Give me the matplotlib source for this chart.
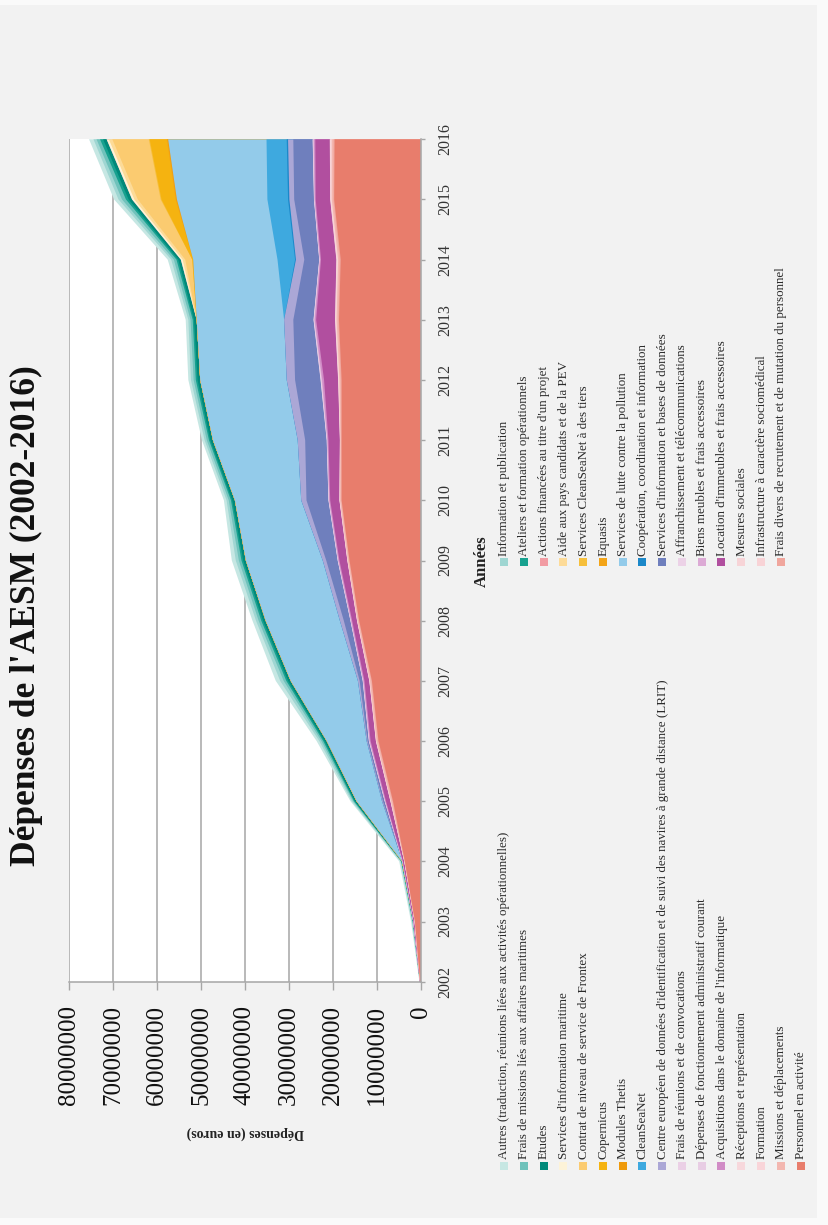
import numpy as np
import matplotlib
matplotlib.use("Agg")
import matplotlib.pyplot as plt
from matplotlib.patches import Rectangle

plt.rcParams["font.family"] = ["Liberation Serif", "DejaVu Serif"]

W_PX, H_PX = 829, 1225

# ----------------- données (millions d'euros) -----------------
years = list(range(2002, 2017))

personnel       = [0.12, 1.30, 3.60, 6.3, 9.6, 11.1, 14.0, 16.2, 18.0, 18.0, 18.0, 18.6, 18.2, 19.7, 19.6]
frais_divers    = [0.00, 0.02, 0.03, 0.15, 0.15, 0.15, 0.12, 0.12, 0.12, 0.10, 0.20, 0.20, 0.25, 0.20, 0.25]
missions        = [0.03, 0.05, 0.08, 0.30, 0.30, 0.30, 0.25, 0.25, 0.25, 0.20, 0.30, 0.35, 0.35, 0.35, 0.40]
infrastructure  = [0, 0, 0, 0, 0, 0, 0, 0, 0, 0, 0.05, 0.05, 0.10, 0.10, 0.10]
formation       = [0.00, 0.02, 0.02, 0.10, 0.10, 0.10, 0.08, 0.08, 0.08, 0.05, 0.15, 0.15, 0.15, 0.15, 0.20]
mesures         = [0.00, 0.01, 0.01, 0.03, 0.03, 0.03, 0.03, 0.03, 0.03, 0.03, 0.05, 0.10, 0.10, 0.05, 0.10]
receptions      = [0.00, 0.00, 0.01, 0.02, 0.02, 0.02, 0.02, 0.02, 0.02, 0.02, 0.05, 0.05, 0.05, 0.05, 0.05]
location        = [0.03, 0.20, 0.30, 1.0, 1.2, 1.1, 1.1, 1.8, 2.1, 2.6, 3.2, 4.3, 3.5, 3.3, 3.3]
acquisitions    = [0.00, 0.05, 0.05, 0.15, 0.20, 0.20, 0.20, 0.20, 0.20, 0.20, 0.40, 0.30, 0.20, 0.20, 0.30]
biens_meubles   = [0.00, 0.02, 0.02, 0.06, 0.08, 0.08, 0.08, 0.08, 0.08, 0.08, 0.16, 0.12, 0.08, 0.08, 0.12]
depenses_fonct  = [0.00, 0.02, 0.02, 0.05, 0.06, 0.06, 0.06, 0.06, 0.06, 0.06, 0.12, 0.09, 0.06, 0.06, 0.09]
affranchissement = [0.00, 0.01, 0.01, 0.03, 0.04, 0.04, 0.04, 0.04, 0.04, 0.04, 0.08, 0.06, 0.04, 0.04, 0.06]
frais_reunions  = [0.00, 0.00, 0.00, 0.01, 0.02, 0.02, 0.02, 0.02, 0.02, 0.02, 0.04, 0.03, 0.02, 0.02, 0.03]
serv_info_bases = [0, 0, 0, 0.4, 0.3, 0.7, 1.5, 2.6, 5.0, 4.9, 5.8, 4.6, 3.4, 4.5, 4.4]
lrit            = [0, 0, 0, 0.2, 0.2, 0.4, 0.9, 0.8, 1.2, 1.7, 1.9, 2.1, 1.9, 1.1, 1.2]
cooperation     = [0, 0, 0, 0, 0, 0, 0, 0, 0, 0, 0, 0, 0.2, 0.3, 0.3]
cleanseanet     = [0, 0, 0, 0, 0, 0, 0, 0, 0, 0, 0, 0, 4.0, 4.7, 4.6]
lutte_pollution = [0, 0, 0.1, 5.8, 9.1, 15.3, 16.9, 17.5, 15.1, 19.3, 19.7, 19.9, 19.2, 20.6, 22.4]
thetis          = [0, 0, 0, 0, 0, 0, 0, 0, 0, 0, 0, 0, 0, 0.1, 0.1]
equasis         = [0, 0, 0, 0, 0, 0, 0, 0, 0, 0, 0, 0, 0, 0.2, 0.2]
copernicus      = [0, 0, 0, 0, 0, 0, 0, 0, 0, 0, 0, 0, 0.2, 3.2, 3.9]
csn_tiers       = [0, 0, 0, 0, 0, 0, 0, 0, 0, 0, 0, 0, 0, 0.2, 0.2]
frontex         = [0, 0, 0, 0, 0, 0, 0, 0, 0, 0, 0, 0, 1.6, 5.2, 8.3]
aide_pev        = [0, 0, 0, 0, 0, 0, 0, 0, 0, 0, 0, 0, 0.6, 0.8, 0.8]
serv_info_mar   = [0, 0, 0, 0, 0, 0, 0, 0, 0, 0, 0, 0, 0.4, 0.5, 0.5]
actions_projet  = [0] * 15
etudes          = [0.00, 0.05, 0.10, 0.4, 0.5, 0.6, 0.6, 0.6, 0.6, 0.6, 0.6, 0.6, 0.6, 0.8, 0.8]
ateliers        = [0.00, 0.05, 0.05, 0.2, 0.3, 0.4, 0.4, 0.4, 0.3, 0.3, 0.4, 0.3, 0.4, 0.6, 0.7]
frais_missions  = [0.02, 0.05, 0.05, 0.2, 0.4, 0.6, 0.6, 0.6, 0.5, 0.5, 0.5, 0.5, 0.6, 0.9, 0.8]
info_publi      = [0.04, 0.15, 0.15, 0.3, 0.5, 0.8, 0.6, 0.7, 0.5, 0.5, 0.6, 0.5, 0.6, 0.8, 0.7]
autres          = [0.06, 0.20, 0.30, 0.3, 0.6, 1.0, 0.8, 0.9, 0.6, 0.6, 0.6, 0.6, 0.8, 1.0, 1.0]

VALUE_TICKS = [0, 10000000, 20000000, 30000000, 40000000, 50000000, 60000000, 70000000, 80000000]
VALUE_LABELS = [str(v) for v in VALUE_TICKS]

# empilement du bas vers le haut
SERIES = [
    ("Personnel en activité", personnel, "#e87d6c"),
    ("Frais divers de recrutement et de mutation du personnel", frais_divers, "#f0a69d"),
    ("Missions et déplacements", missions, "#f3b7b0"),
    ("Infrastructure à caractère sociomédical", infrastructure, "#f8d3d6"),
    ("Formation", formation, "#f9d5d9"),
    ("Mesures sociales", mesures, "#f7d4d7"),
    ("Réceptions et représentation", receptions, "#f7d8dc"),
    ("Location d'immeubles et frais accessoires", location, "#b14f9f"),
    ("Acquisitions dans le domaine de l'informatique", acquisitions, "#d18cc6"),
    ("Biens meubles et frais accessoires", biens_meubles, "#dcaad5"),
    ("Dépenses de fonctionnement administratif courant", depenses_fonct, "#e8cde4"),
    ("Affranchissement et télécommunications", affranchissement, "#ecd2e7"),
    ("Frais de réunions et de convocations", frais_reunions, "#ebd0e6"),
    ("Services d'information et bases de données", serv_info_bases, "#6f7fbd"),
    ("Centre européen de données d'identification et de suivi des navires à grande distance (LRIT)", lrit, "#aba7d6"),
    ("Coopération, coordination et information", cooperation, "#1b88c9"),
    ("CleanSeaNet", cleanseanet, "#3ea9df"),
    ("Services de lutte contre la pollution", lutte_pollution, "#93cbea"),
    ("Modules Thetis", thetis, "#ef9a0a"),
    ("Equasis", equasis, "#f3a417"),
    ("Copernicus", copernicus, "#f5b310"),
    ("Services CleanSeaNet à des tiers", csn_tiers, "#f6bf3b"),
    ("Contrat de niveau de service de Frontex", frontex, "#fbcb70"),
    ("Aide aux pays candidats et de la PEV", aide_pev, "#fddb98"),
    ("Services d'information maritime", serv_info_mar, "#fdf3d8"),
    ("Actions financées au titre d'un projet", actions_projet, "#f29ca3"),
    ("Etudes", etudes, "#00897a"),
    ("Ateliers et formation opérationnels", ateliers, "#17a18f"),
    ("Frais de missions liés aux affaires maritimes", frais_missions, "#6fc2bb"),
    ("Information et publication", info_publi, "#9fd6d2"),
    ("Autres (traduction, réunions liées aux activités opérationnelles)", autres, "#c6e7e3"),
]

LEGEND_LEFT = [
    "Autres (traduction, réunions liées aux activités opérationnelles)",
    "Frais de missions liés aux affaires maritimes",
    "Etudes",
    "Services d'information maritime",
    "Contrat de niveau de service de Frontex",
    "Copernicus",
    "Modules Thetis",
    "CleanSeaNet",
    "Centre européen de données d'identification et de suivi des navires à grande distance (LRIT)",
    "Frais de réunions et de convocations",
    "Dépenses de fonctionnement administratif courant",
    "Acquisitions dans le domaine de l'informatique",
    "Réceptions et représentation",
    "Formation",
    "Missions et déplacements",
    "Personnel en activité",
]
LEGEND_RIGHT = [
    "Information et publication",
    "Ateliers et formation opérationnels",
    "Actions financées au titre d'un projet",
    "Aide aux pays candidats et de la PEV",
    "Services CleanSeaNet à des tiers",
    "Equasis",
    "Services de lutte contre la pollution",
    "Coopération, coordination et information",
    "Services d'information et bases de données",
    "Affranchissement et télécommunications",
    "Biens meubles et frais accessoires",
    "Location d'immeubles et frais accessoires",
    "Mesures sociales",
    "Infrastructure à caractère sociomédical",
    "Frais divers de recrutement et de mutation du personnel",
]

GRID = "#a6a6a6"


def fx(x):
    return x / W_PX


def fy(y):
    return 1 - y / H_PX


fig = plt.figure(figsize=(W_PX / 100, H_PX / 100), dpi=100, facecolor="#fafafa")
fig.add_artist(Rectangle((0, fy(1218)), fx(817), fy(5) - fy(1218),
                         transform=fig.transFigure, facecolor="#f2f2f2",
                         edgecolor="none", zorder=0))

# le graphique est tourné de 90° : années en vertical, montants en horizontal
ax = fig.add_axes([fx(69.3), fy(981.7), (420.7 - 69.3) / W_PX, (981.7 - 139.3) / H_PX])
ax.set_facecolor("white")

yrs = np.array(years)
tops = np.cumsum(np.array([s[1] for s in SERIES]) * 1e6, axis=0)
# du haut vers le bas : chaque couche recouvre la précédente (pas de joints visibles)
for i in range(len(SERIES) - 1, -1, -1):
    ax.fill_betweenx(yrs, 0, tops[i], facecolor=SERIES[i][2], linewidth=0, zorder=2)

ax.set_xlim(80e6, 0)
ax.set_ylim(2002, 2016)
ax.set_xticks(VALUE_TICKS)
ax.set_xticklabels(VALUE_LABELS, rotation=90, fontsize=18, va="top", ha="center",
                   color="#111111")
ax.yaxis.tick_right()
ax.set_yticks(years)
ax.set_yticklabels([str(y) for y in years], rotation=90, fontsize=11.5,
                   va="center", ha="left", color="#333333")
ax.tick_params(axis="x", direction="out", length=6, width=1, color=GRID, pad=11)
ax.tick_params(axis="y", direction="out", length=3, width=1, color=GRID, pad=9)

ax.grid(axis="x", color=GRID, linewidth=1.1)
ax.set_axisbelow(True)
for side in ["top", "left"]:
    ax.spines[side].set_visible(False)
for side in ["right", "bottom"]:
    ax.spines[side].set_color(GRID)
    ax.spines[side].set_linewidth(1.1)

# textes
fig.text(fx(26), fy(616), "Dépenses de l'AESM (2002-2016)", rotation=90,
         fontsize=25.5, fontweight="bold", ha="center", va="center", color="#111111")
fig.text(fx(482), fy(561), "Années", rotation=90, fontsize=12, fontweight="bold",
         ha="center", va="center", color="#222222")
fig.text(fx(245), fy(1133), "Dépenses (en euros)", rotation=180, fontsize=10,
         fontweight="bold", ha="center", va="center", color="#222222")

# légende (deux colonnes, texte vertical)
colors = {s[0]: s[2] for s in SERIES}
ROW_STEP = 19.77
for col_items, mark_y, text_y in [(LEGEND_LEFT, 1166, 1159), (LEGEND_RIGHT, 562, 556)]:
    for i, name in enumerate(col_items):
        x = 504 + i * ROW_STEP
        fig.add_artist(Rectangle((fx(x - 4), fy(mark_y + 4)), 8 / W_PX, 8 / H_PX,
                                 transform=fig.transFigure, facecolor=colors[name],
                                 edgecolor="none"))
        fig.text(fx(x + 0.5), fy(text_y), name, rotation=90, fontsize=9.4,
                 ha="center", va="bottom", color="#2a2a2a")

fig.savefig("out.png", dpi=100, facecolor=fig.get_facecolor())
